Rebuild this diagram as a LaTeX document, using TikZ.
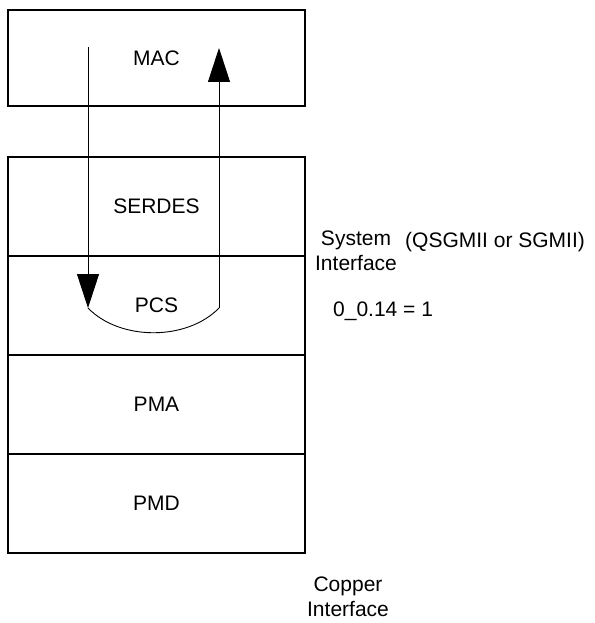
\documentclass[tikz,border=0pt]{standalone}
\usepackage{fontspec}
\setmainfont{Liberation Sans}
\usetikzlibrary{positioning,arrows.meta}
\begin{document}
\begin{tikzpicture}[x=1bp,y=-1bp,
  every node/.style={font=\fontsize{21bp}{25bp}\selectfont},
  layer/.style={draw, line width=2.5bp, outer sep=0pt, inner sep=0pt,
    minimum width=297bp, minimum height=99bp},
  loopline/.style={line width=0.9bp},
  bigtip/.style={-{Triangle[length=34bp,width=22bp]}}]
  \useasboundingbox (0,0) rectangle (595,623);
  % Layers
  \node[layer, minimum height=96bp] (mac) at (156.5,58) {MAC};
  \node[layer] (serdes) at (156.5,206.5) {SERDES};
  \node[layer, below=0pt of serdes] (pcs) {PCS};
  \node[layer, below=0pt of pcs] (pma) {PMA};
  \node[layer, below=0pt of pma] (pmd) {PMD};
  % Loopback path
  \coordinate (txtop) at (88,47);
  \coordinate (txloop) at (88,308);
  \coordinate (rxloop) at (219,308);
  \coordinate (rxtop) at (219,48);
  \draw[loopline, bigtip] (txtop) -- (txloop);
  \draw[loopline] (txloop) .. controls (120,341) and (187,341) .. (rxloop);
  \draw[loopline, bigtip] (rxloop) -- (rxtop);
  % Side labels
  \node[align=center] (sysif) at (356,251) {System\\Interface};
  \node[anchor=base west, inner sep=0pt] (mode) at (405,247) {(QSGMII or SGMII)};
  \node[anchor=west, inner sep=0pt] (reg) at (333,311) {0\_0.14 = 1};
  \node[align=center] (cuif) at (348,597) {Copper\\Interface};
\end{tikzpicture}
\end{document}
